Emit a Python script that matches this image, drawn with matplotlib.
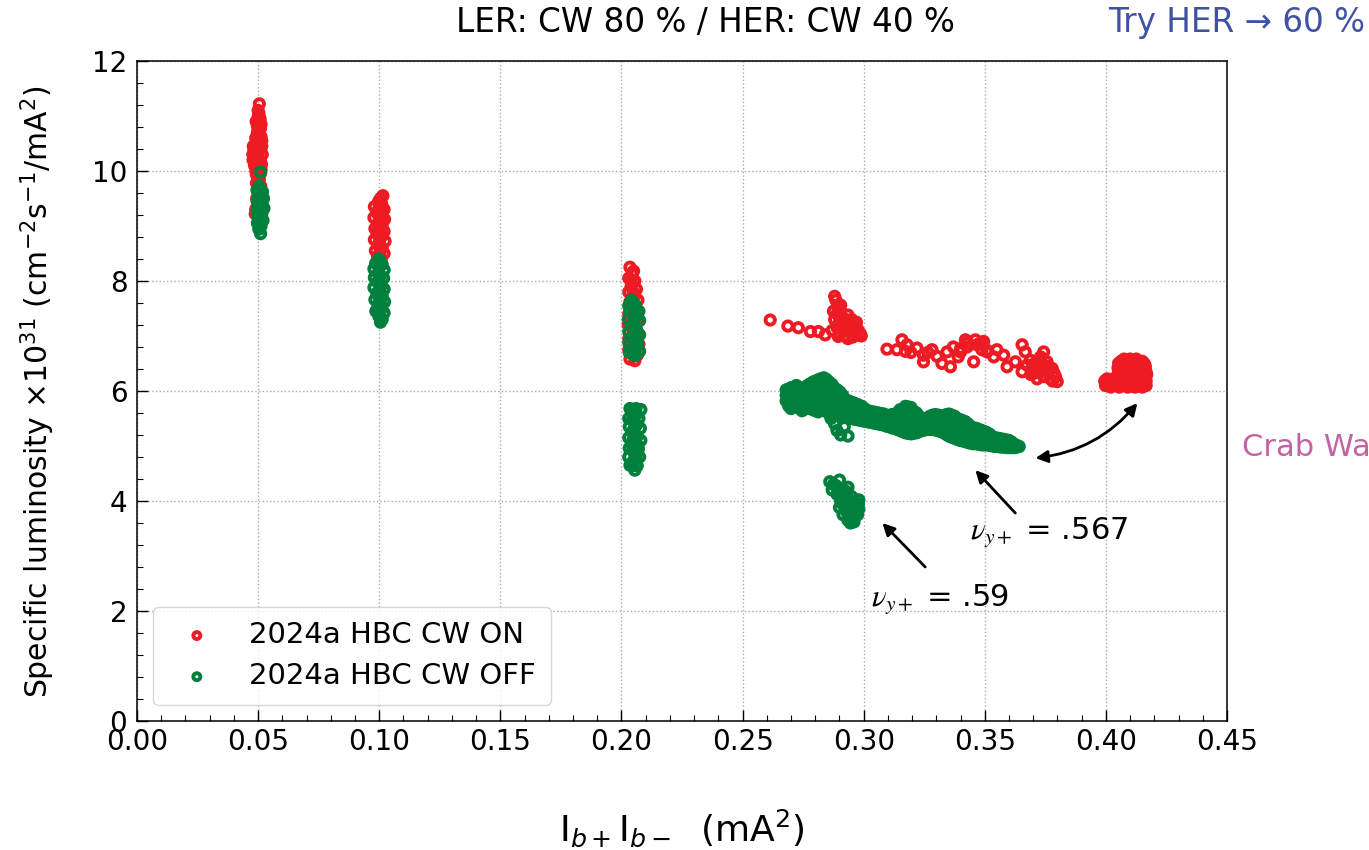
import numpy as np
import matplotlib.pyplot as plt
from matplotlib.ticker import MultipleLocator, FormatStrFormatter

# -------------------- colours --------------------
RED = '#ED1C24'
GREEN = '#007F3D'

# -------------------- CW ON (red) --------------------
on_col05 = [(0.0505, 11.22), (0.0500, 11.10), (0.0503, 11.05), (0.0508, 10.95), (0.0500, 10.85),
            (0.0510, 10.78), (0.0497, 10.70), (0.0512, 10.62), (0.0494, 10.55), (0.0506, 10.50),
            (0.0515, 10.45), (0.0490, 10.40), (0.0503, 10.36), (0.0517, 10.30), (0.0492, 10.25),
            (0.0508, 10.20), (0.0489, 10.15), (0.0514, 10.12), (0.0499, 10.06), (0.0491, 10.00),
            (0.0510, 9.96), (0.0496, 9.90), (0.0505, 9.84), (0.0493, 9.78), (0.0511, 9.72),
            (0.0499, 9.65), (0.0507, 9.58), (0.0494, 9.50), (0.0510, 9.44), (0.0500, 9.38),
            (0.0490, 9.30), (0.0518, 9.30), (0.0488, 9.22), (0.0515, 9.22), (0.0478, 10.30),
            (0.0480, 10.45), (0.0479, 10.20),
            (0.0501, 11.00), (0.0505, 10.90), (0.0497, 10.81), (0.0506, 10.74), (0.0502, 10.66),
            (0.0500, 10.58), (0.0483, 10.38), (0.0510, 10.40), (0.0498, 10.28), (0.0485, 10.30),
            (0.0500, 10.18), (0.0503, 10.10), (0.0485, 10.10), (0.0504, 10.03), (0.0502, 9.93),
            (0.0498, 9.81), (0.0503, 9.69), (0.0502, 9.54), (0.0504, 9.47), (0.0495, 9.34),
            (0.0508, 9.26), (0.0492, 10.90), (0.0512, 10.85), (0.0490, 10.60), (0.0515, 10.55),
            (0.0492, 9.95), (0.0512, 10.02)]

on_col10 = [(0.1015, 9.55), (0.0998, 9.45), (0.1010, 9.40), (0.0980, 9.35), (0.1020, 9.30),
            (0.0990, 9.25), (0.1005, 9.20), (0.0978, 9.15), (0.1022, 9.12), (0.0995, 9.05),
            (0.1012, 9.00), (0.0982, 8.95), (0.1020, 8.90), (0.0992, 8.85), (0.1008, 8.80),
            (0.0980, 8.75), (0.1024, 8.72), (0.0996, 8.65), (0.1012, 8.60), (0.0984, 8.55),
            (0.1020, 8.50), (0.0993, 8.45), (0.1008, 8.40),
            (0.1005, 9.50), (0.1000, 9.36), (0.1005, 9.28), (0.0998, 9.18), (0.1010, 9.10),
            (0.1002, 9.00), (0.0995, 8.92), (0.1010, 8.83), (0.1000, 8.70), (0.1005, 8.58),
            (0.1002, 8.48)]

on_col20 = [(0.2035, 8.25), (0.2045, 8.12), (0.2030, 8.05), (0.2055, 8.00), (0.2040, 7.90),
            (0.2062, 7.85), (0.2030, 7.80), (0.2052, 7.72), (0.2068, 7.65), (0.2035, 7.62),
            (0.2060, 7.50), (0.2030, 7.40), (0.2070, 7.30), (0.2028, 7.20), (0.2068, 7.05),
            (0.2030, 6.95), (0.2072, 6.85), (0.2030, 6.75), (0.2065, 6.65), (0.2035, 6.58),
            (0.2055, 6.55),
            (0.2050, 8.18), (0.2040, 8.00), (0.2048, 7.80), (0.2050, 7.58), (0.2045, 7.45),
            (0.2050, 7.25), (0.2048, 7.10), (0.2050, 6.90), (0.2048, 6.70)]

on_track1 = [(0.2614, 7.29), (0.2687, 7.18), (0.2730, 7.15), (0.2780, 7.08), (0.2813, 7.08),
             (0.2841, 7.02), (0.2870, 7.10), (0.2895, 6.99),
             (0.2880, 7.72), (0.2885, 7.65), (0.2905, 7.56), (0.2875, 7.45), (0.2890, 7.40),
             (0.2910, 7.35), (0.2935, 7.38), (0.2950, 7.30), (0.2880, 7.30), (0.2900, 7.25),
             (0.2925, 7.22), (0.2960, 7.20), (0.2975, 7.12), (0.2890, 7.15), (0.2915, 7.10),
             (0.2945, 7.08), (0.2985, 7.05), (0.2920, 7.00), (0.2955, 6.98), (0.2990, 7.00),
             (0.2935, 6.95), (0.2965, 7.04), (0.2905, 7.45), (0.2925, 7.30), (0.2940, 7.18),
             (0.2970, 7.25), (0.2900, 7.05),
             (0.2895, 7.50), (0.2900, 7.35), (0.2918, 7.25), (0.2935, 7.12), (0.2955, 7.14),
             (0.2970, 7.08), (0.2910, 7.18), (0.2945, 7.28)]

on_track2 = [(0.3096, 6.76), (0.3137, 6.75), (0.3158, 6.93), (0.3179, 6.84), (0.3172, 6.72),
             (0.3220, 6.78), (0.3247, 6.65), (0.3247, 6.53), (0.3282, 6.75), (0.3303, 6.63),
             (0.3323, 6.50), (0.3344, 6.71), (0.3358, 6.44), (0.3370, 6.80), (0.3400, 6.71),
             (0.3427, 6.87), (0.3454, 6.53), (0.3468, 6.84), (0.3495, 6.90), (0.3509, 6.74),
             (0.3427, 6.80), (0.3481, 6.87), (0.3509, 6.71), (0.3537, 6.62), (0.3550, 6.75),
             (0.3578, 6.65), (0.3592, 6.44), (0.3626, 6.53), (0.3654, 6.84), (0.3667, 6.71),
             (0.3654, 6.35), (0.3688, 6.56), (0.3702, 6.32), (0.3730, 6.62), (0.3737, 6.44),
             (0.3757, 6.53), (0.3764, 6.32), (0.3778, 6.41), (0.3792, 6.26), (0.3799, 6.17),
             (0.3743, 6.71), (0.3716, 6.22), (0.3674, 6.47), (0.3716, 6.50), (0.3750, 6.38),
             (0.3771, 6.22), (0.3743, 6.26), (0.3695, 6.41), (0.3400, 6.77), (0.3420, 6.93),
             (0.3461, 6.93), (0.3488, 6.75), (0.3195, 6.70), (0.3265, 6.70), (0.3390, 6.62),
             (0.3705, 6.50), (0.3725, 6.38), (0.3760, 6.45), (0.3785, 6.33), (0.3730, 6.55),
             (0.3690, 6.30), (0.3780, 6.18)]

# blob at 0.41: one row of x values per y
on_blob_y = [6.58, 6.54, 6.50, 6.46, 6.42, 6.38, 6.34, 6.30, 6.26, 6.22, 6.18, 6.14, 6.10,
             6.07]
on_blob_x = [[0.4075, 0.4100, 0.4125],
             [0.4062, 0.4100, 0.4130, 0.4150],
             [0.4052, 0.4085, 0.4115, 0.4145, 0.4158],
             [0.4060, 0.4090, 0.4120, 0.4150, 0.4162],
             [0.4050, 0.4075, 0.4105, 0.4135, 0.4162],
             [0.4062, 0.4095, 0.4125, 0.4158],
             [0.4052, 0.4085, 0.4115, 0.4145, 0.4166],
             [0.4060, 0.4090, 0.4120, 0.4150, 0.4168],
             [0.4050, 0.4075, 0.4105, 0.4135, 0.4165],
             [0.4005, 0.4030, 0.4060, 0.4092, 0.4122, 0.4155],
             [0.3995, 0.4018, 0.4045, 0.4080, 0.4110, 0.4140, 0.4166],
             [0.4005, 0.4035, 0.4068, 0.4100, 0.4130, 0.4160],
             [0.3998, 0.4022, 0.4050, 0.4085, 0.4115, 0.4145, 0.4166],
             [0.4020, 0.4055, 0.4090, 0.4120, 0.4150]]

# -------------------- CW OFF (green) --------------------
off_col05 = [(0.0510, 9.98), (0.0505, 9.72), (0.0495, 9.65), (0.0518, 9.62), (0.0500, 9.55),
             (0.0522, 9.50), (0.0496, 9.45), (0.0515, 9.40), (0.0500, 9.35), (0.0524, 9.32),
             (0.0495, 9.26), (0.0512, 9.20), (0.0502, 9.14), (0.0520, 9.10), (0.0497, 9.05),
             (0.0512, 9.00), (0.0503, 8.94), (0.0510, 8.86),
             (0.0508, 9.67), (0.0510, 9.52), (0.0508, 9.38), (0.0508, 9.23), (0.0508, 9.08),
             (0.0505, 8.97)]

off_col10 = [(0.0998, 8.40), (0.0985, 8.32), (0.1012, 8.30), (0.0978, 8.22), (0.1020, 8.20),
             (0.0995, 8.14), (0.0980, 8.06), (0.1018, 8.05), (0.0992, 7.98), (0.1008, 7.92),
             (0.0978, 7.88), (0.1020, 7.85), (0.0990, 7.78), (0.1012, 7.72), (0.0982, 7.66),
             (0.1022, 7.62), (0.0995, 7.56), (0.1010, 7.50), (0.0986, 7.45), (0.1020, 7.42),
             (0.0998, 7.36), (0.1012, 7.30), (0.1005, 7.25),
             (0.1002, 8.36), (0.1000, 8.25), (0.1005, 8.10), (0.1000, 7.95), (0.1002, 7.82),
             (0.1000, 7.69), (0.1005, 7.59), (0.1000, 7.47), (0.1005, 7.33)]

off_col20_hi = [(0.2040, 7.65), (0.2030, 7.55), (0.2058, 7.55), (0.2072, 7.45), (0.2035, 7.45),
                (0.2052, 7.38), (0.2028, 7.30), (0.2075, 7.28), (0.2045, 7.20), (0.2062, 7.12),
                (0.2030, 7.08), (0.2075, 7.02), (0.2048, 6.96), (0.2030, 6.88), (0.2068, 6.86),
                (0.2045, 6.78), (0.2075, 6.72), (0.2032, 6.70), (0.2058, 6.64),
                (0.2050, 7.60), (0.2055, 7.48), (0.2060, 7.35), (0.2050, 7.25), (0.2055, 7.05),
                (0.2055, 6.92), (0.2058, 6.80), (0.2048, 6.68)]

off_col20_lo = [(0.2035, 5.68), (0.2060, 5.68), (0.2080, 5.66), (0.2048, 5.58), (0.2030, 5.50),
                (0.2072, 5.50), (0.2055, 5.42), (0.2032, 5.35), (0.2078, 5.32), (0.2048, 5.25),
                (0.2065, 5.18), (0.2030, 5.15), (0.2080, 5.10), (0.2050, 5.05), (0.2032, 4.96),
                (0.2070, 4.95), (0.2052, 4.88), (0.2030, 4.80), (0.2075, 4.80), (0.2048, 4.72),
                (0.2065, 4.64), (0.2035, 4.65), (0.2055, 4.56),
                (0.2048, 5.65), (0.2062, 5.58), (0.2045, 5.47), (0.2062, 5.38), (0.2050, 5.30),
                (0.2048, 5.12), (0.2065, 5.02), (0.2048, 4.98), (0.2062, 4.86), (0.2058, 4.75),
                (0.2048, 4.64)]

# long green band: one column of y values per x
off_track_x = [0.2680, 0.2690, 0.2700, 0.2711, 0.2722, 0.2733, 0.2745, 0.2756, 0.2768, 0.2779,
               0.2790, 0.2801, 0.2812, 0.2823, 0.2835, 0.2846, 0.2858, 0.2869, 0.2880, 0.2891,
               0.2902, 0.2913, 0.2925, 0.2936, 0.2948, 0.2959, 0.2970, 0.2981, 0.2992, 0.3003,
               0.3015, 0.3026, 0.3038, 0.3049, 0.3060, 0.3071, 0.3083, 0.3094, 0.3105, 0.3116,
               0.3128, 0.3139, 0.3150, 0.3161, 0.3172, 0.3183, 0.3195, 0.3206, 0.3218, 0.3229,
               0.3240, 0.3251, 0.3262, 0.3273, 0.3285, 0.3296, 0.3308, 0.3319, 0.3330, 0.3341,
               0.3352, 0.3363, 0.3375, 0.3386, 0.3398, 0.3409, 0.3420, 0.3431, 0.3442, 0.3453,
               0.3465, 0.3476, 0.3488, 0.3499, 0.3510, 0.3521, 0.3532, 0.3543, 0.3555, 0.3566,
               0.3578, 0.3589, 0.3600, 0.3611, 0.3622, 0.3632, 0.3642]
off_track_y = [[5.82, 5.92, 6.02],
               [5.73, 5.83, 5.93, 6.03],
               [5.68, 5.78, 5.88, 5.98, 6.06],
               [5.71, 5.81, 5.91, 6.01, 6.07],
               [5.74, 5.84, 5.94, 6.04, 6.10],
               [5.69, 5.79, 5.89, 5.99, 6.06],
               [5.64, 5.74, 5.84, 5.94, 6.02],
               [5.67, 5.77, 5.87, 5.97, 6.05],
               [5.70, 5.80, 5.90, 6.00, 6.10],
               [5.68, 5.78, 5.88, 5.98, 6.08, 6.13],
               [5.66, 5.76, 5.86, 5.96, 6.06, 6.16],
               [5.64, 5.74, 5.84, 5.94, 6.04, 6.14, 6.18],
               [5.62, 5.72, 5.82, 5.92, 6.02, 6.12, 6.20],
               [5.65, 5.75, 5.85, 5.95, 6.05, 6.15, 6.22],
               [5.68, 5.78, 5.88, 5.98, 6.08, 6.18, 6.24],
               [5.63, 5.73, 5.83, 5.93, 6.03, 6.13, 6.21],
               [5.58, 5.68, 5.78, 5.88, 5.98, 6.08, 6.16],
               [5.57, 5.67, 5.77, 5.87, 5.97, 6.07, 6.12],
               [5.55, 5.65, 5.75, 5.85, 5.95, 6.05],
               [5.57, 5.67, 5.77, 5.87, 5.97, 6.02],
               [5.58, 5.68, 5.78, 5.88, 5.98],
               [5.56, 5.66, 5.76, 5.86, 5.92],
               [5.54, 5.64, 5.74, 5.84],
               [5.52, 5.62, 5.72, 5.82],
               [5.50, 5.60, 5.70, 5.80],
               [5.49, 5.59, 5.69, 5.78],
               [5.48, 5.58, 5.68, 5.76],
               [5.47, 5.57, 5.67, 5.74],
               [5.46, 5.56, 5.66, 5.72],
               [5.45, 5.55, 5.65, 5.68],
               [5.44, 5.54, 5.64],
               [5.43, 5.53, 5.63],
               [5.42, 5.52, 5.62],
               [5.41, 5.51, 5.61],
               [5.40, 5.50, 5.60],
               [5.39, 5.49, 5.59],
               [5.38, 5.48, 5.58],
               [5.36, 5.46, 5.56],
               [5.35, 5.45, 5.55],
               [5.33, 5.43, 5.53, 5.57],
               [5.32, 5.42, 5.52, 5.58],
               [5.30, 5.40, 5.50, 5.60],
               [5.28, 5.38, 5.48, 5.58, 5.66],
               [5.26, 5.36, 5.46, 5.56, 5.66],
               [5.24, 5.34, 5.44, 5.54, 5.64, 5.72],
               [5.23, 5.33, 5.43, 5.53, 5.63, 5.71],
               [5.22, 5.32, 5.42, 5.52, 5.62, 5.70],
               [5.23, 5.33, 5.43, 5.53, 5.63],
               [5.24, 5.34, 5.44, 5.54, 5.60],
               [5.26, 5.36, 5.46, 5.54],
               [5.28, 5.38, 5.48],
               [5.29, 5.39, 5.49],
               [5.30, 5.40, 5.50],
               [5.30, 5.40, 5.50, 5.54],
               [5.30, 5.40, 5.50, 5.56],
               [5.29, 5.39, 5.49, 5.57],
               [5.28, 5.38, 5.48, 5.56],
               [5.26, 5.36, 5.46, 5.55],
               [5.24, 5.34, 5.44, 5.54],
               [5.21, 5.31, 5.41, 5.51, 5.57],
               [5.18, 5.28, 5.38, 5.48, 5.58],
               [5.16, 5.26, 5.36, 5.46, 5.56],
               [5.14, 5.24, 5.34, 5.44, 5.54],
               [5.12, 5.22, 5.32, 5.42, 5.50],
               [5.10, 5.20, 5.30, 5.40, 5.48],
               [5.09, 5.19, 5.29, 5.39, 5.46],
               [5.08, 5.18, 5.28, 5.38, 5.44],
               [5.06, 5.16, 5.26, 5.36, 5.40],
               [5.05, 5.15, 5.25, 5.35],
               [5.04, 5.14, 5.24, 5.33],
               [5.04, 5.14, 5.24, 5.32],
               [5.03, 5.13, 5.23, 5.30],
               [5.02, 5.12, 5.22, 5.28],
               [5.02, 5.11, 5.20, 5.26],
               [5.02, 5.10, 5.18, 5.24],
               [5.01, 5.09, 5.17, 5.21],
               [5.00, 5.08, 5.16],
               [4.99, 5.07, 5.15],
               [4.99, 5.07, 5.14],
               [4.98, 5.06, 5.13],
               [4.98, 5.06, 5.12],
               [4.97, 5.05, 5.11],
               [4.97, 5.04, 5.10],
               [4.97, 5.03, 5.07],
               [4.97, 5.03],
               [4.98, 5.01],
               [4.99]]

off_hook = [(0.2890, 5.28), (0.2905, 5.20), (0.2935, 5.18), (0.2920, 5.35), (0.2880, 5.40),
            (0.2865, 5.50)]

off_blob = [(0.2860, 4.35), (0.2885, 4.28), (0.2870, 4.20), (0.2900, 4.38), (0.2910, 4.22),
            (0.2935, 4.25), (0.2890, 4.12), (0.2920, 4.10), (0.2950, 4.08), (0.2905, 4.00),
            (0.2935, 3.98), (0.2960, 3.95), (0.2900, 3.88), (0.2925, 3.85), (0.2955, 3.82),
            (0.2980, 3.85), (0.2915, 3.75), (0.2945, 3.72), (0.2975, 3.75), (0.2935, 3.65),
            (0.2960, 3.62), (0.2980, 4.02), (0.2978, 3.95), (0.2945, 3.90), (0.2930, 4.05),
            (0.2875, 4.30), (0.2895, 4.22), (0.2925, 4.18), (0.2905, 4.08), (0.2940, 4.02),
            (0.2915, 3.93), (0.2965, 3.88), (0.2930, 3.80), (0.2960, 3.70), (0.2945, 3.60)]

# -------------------- assemble --------------------
on_pts = on_col05 + on_col10 + on_col20 + on_track1 + on_track2
on_pts += [(x, y) for y, xs in zip(on_blob_y, on_blob_x) for x in xs]
off_pts = off_col05 + off_col10 + off_col20_hi + off_col20_lo + off_hook + off_blob
off_pts += [(x, y) for x, ys in zip(off_track_x, off_track_y) for y in ys]
on_pts = np.array(on_pts)
off_pts = np.array(off_pts)

# -------------------- figure --------------------
fig = plt.figure(figsize=(13.69, 8.5), dpi=100)
ax = fig.add_axes([0.1001, 0.1518, 0.7962, 0.7765])

ax.scatter(on_pts[:, 0], on_pts[:, 1], s=45, facecolors='none', edgecolors=RED,
           linewidths=2.8, label='2024a HBC CW ON', zorder=3)
ax.scatter(off_pts[:, 0], off_pts[:, 1], s=45, facecolors='none', edgecolors=GREEN,
           linewidths=2.8, label='2024a HBC CW OFF', zorder=4)

ax.set_xlim(0, 0.45)
ax.set_ylim(0, 12)
ax.xaxis.set_major_locator(MultipleLocator(0.05))
ax.xaxis.set_minor_locator(MultipleLocator(0.01))
ax.xaxis.set_major_formatter(FormatStrFormatter('%.2f'))
ax.yaxis.set_major_locator(MultipleLocator(2))
ax.yaxis.set_minor_locator(MultipleLocator(0.4))
ax.tick_params(which='both', direction='in', labelsize=20)
ax.tick_params(which='major', length=8, width=1)
ax.tick_params(which='minor', length=4, width=0.8)
ax.tick_params(axis='y', pad=7)
ax.tick_params(axis='x', pad=5)
ax.grid(True, which='major', linestyle=':', color='#aaaaaa', linewidth=1)
for sp in ax.spines.values():
    sp.set_linewidth(1.1)

leg = ax.legend(loc='lower left', fontsize=21, borderaxespad=0.55, handletextpad=0.8,
                borderpad=0.5, labelspacing=0.45, markerscale=0.75)

# axis labels
fig.text(38 / 1369, 0.539, r'Specific luminosity $\times$10$^{31}$ (cm$^{-2}$s$^{-1}$/mA$^2$)',
         rotation=90, ha='center', va='center', fontsize=21.5)
fig.text(0.4982, 0.026, r'I$_{b+}$I$_{b-}$  (mA$^2$)', ha='center', va='center', fontsize=26)

# slide texts
fig.text(705 / 1369, 0.974, 'LER: CW 80 % / HER: CW 40 %', ha='center', va='center',
         fontsize=23.5)
fig.text(0.8094, 0.974, 'Try HER \u2192 60 %', ha='left', va='center', fontsize=23.5,
         color='#4053A3')
fig.text(0.9072, 0.473, 'Crab Waist', ha='left', va='center', fontsize=22, color='#C462A4')

# annotations
arrow_kw = dict(arrowstyle='-|>', color='k', lw=2, mutation_scale=18, shrinkA=0, shrinkB=0)
ax.annotate('', xy=(0.3461, 4.56), xytext=(0.3626, 3.78), arrowprops=arrow_kw)
ax.annotate('', xy=(0.3077, 3.60), xytext=(0.3254, 2.80), arrowprops=arrow_kw)
ax.annotate('', xy=(0.4130, 5.78), xytext=(0.3709, 4.78),
            arrowprops=dict(arrowstyle='<|-|>', color='k', lw=2, mutation_scale=18,
                            shrinkA=0, shrinkB=0, connectionstyle='arc3,rad=0.2'))
ax.text(0.3440, 3.29, r'$\nu_{y+}$ = .567', fontsize=22, va='baseline', ha='left',
        math_fontfamily='stix')
ax.text(0.3030, 2.08, r'$\nu_{y+}$ = .59', fontsize=22, va='baseline', ha='left',
        math_fontfamily='stix')

fig.savefig('out.png', dpi=100)
